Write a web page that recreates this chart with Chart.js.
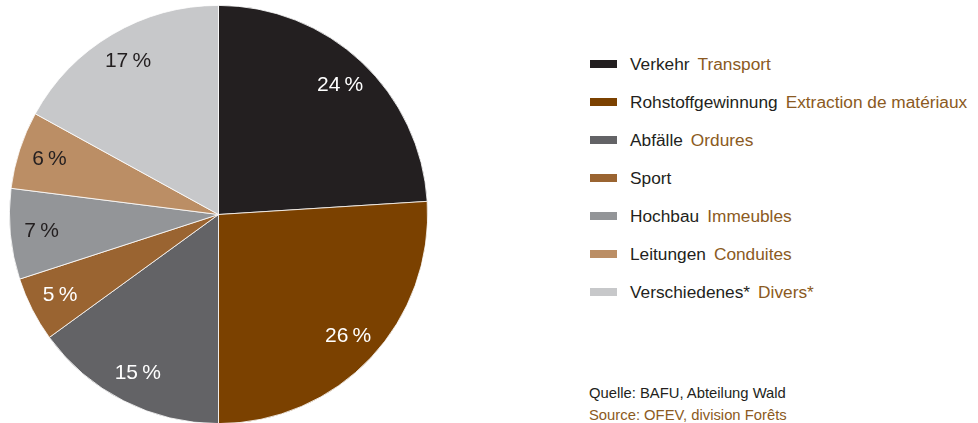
<!DOCTYPE html>
<html><head><meta charset="utf-8">
<script src="https://cdn.jsdelivr.net/npm/chart.js@4"></script>
<style>
html,body{margin:0;padding:0;background:#fff;}
body{width:978px;height:423px;position:relative;overflow:hidden;font-family:"Liberation Sans Narrow","Liberation Sans",sans-serif;}
#wrap{position:absolute;left:9px;top:5px;width:419px;height:419px;}
#legend{position:absolute;left:590px;top:52px;}
.row{height:38px;display:flex;align-items:flex-start;font-size:17.3px;color:#231f20;line-height:24px;}
.sw{width:27px;height:8px;margin-top:8px;margin-right:13px;}
.fr{color:#8b5a22;margin-left:8px;}
#src{position:absolute;left:589px;top:382px;font-size:14.8px;line-height:22px;}
</style></head>
<body>
<div id="wrap"><canvas id="c"></canvas></div>
<div id="legend"></div>
<div id="src"><div style="color:#231f20">Quelle: BAFU, Abteilung Wald</div><div style="color:#8b5a22">Source: OFEV, division Forêts</div></div>
<script>
const labelsDE = ["Verkehr","Rohstoffgewinnung","Abfälle","Sport","Hochbau","Leitungen","Verschiedenes*"];
const labelsFR = ["Transport","Extraction de matériaux","Ordures","","Immeubles","Conduites","Divers*"];
const values = [24,26,15,5,7,6,17];
const colors = ["#231f20","#7b4100","#636366","#9a6431","#939598","#bb8e65","#c7c8ca"];
const labelColors = ["#ffffff","#ffffff","#ffffff","#ffffff","#231f20","#231f20","#231f20"];

const leg = document.getElementById('legend');
labelsDE.forEach((l,i)=>{
  const r=document.createElement('div');r.className='row';
  r.innerHTML='<div class="sw" style="background:'+colors[i]+'"></div><span>'+l+'</span>'+(labelsFR[i]?'<span class="fr">'+labelsFR[i]+'</span>':'');
  leg.appendChild(r);
});

const pctPlugin={id:'pct',afterDatasetsDraw(chart){
  const ctx=chart.ctx;const meta=chart.getDatasetMeta(0);
  ctx.save();ctx.font='21px "Liberation Sans Narrow","Liberation Sans",sans-serif';
  ctx.textAlign='center';ctx.textBaseline='middle';
  meta.data.forEach((arc,i)=>{
    const p=arc.getProps(['x','y','startAngle','endAngle','outerRadius'],true);
    const a=(p.startAngle+p.endAngle)/2;const r=p.outerRadius*0.85;
    ctx.fillStyle=labelColors[i];
    ctx.fillText(values[i]+'\u2009%',p.x+Math.cos(a)*r,p.y+Math.sin(a)*r);
  });
  ctx.restore();
}};

new Chart(document.getElementById('c'),{
  type:'pie',
  data:{labels:labelsDE,datasets:[{data:values,backgroundColor:colors,borderColor:'#ffffff',borderWidth:0.8}]},
  options:{responsive:true,maintainAspectRatio:false,animation:false,layout:{padding:0},
    plugins:{legend:{display:false},tooltip:{enabled:false}}},
  plugins:[pctPlugin]
});
</script>
</body></html>
